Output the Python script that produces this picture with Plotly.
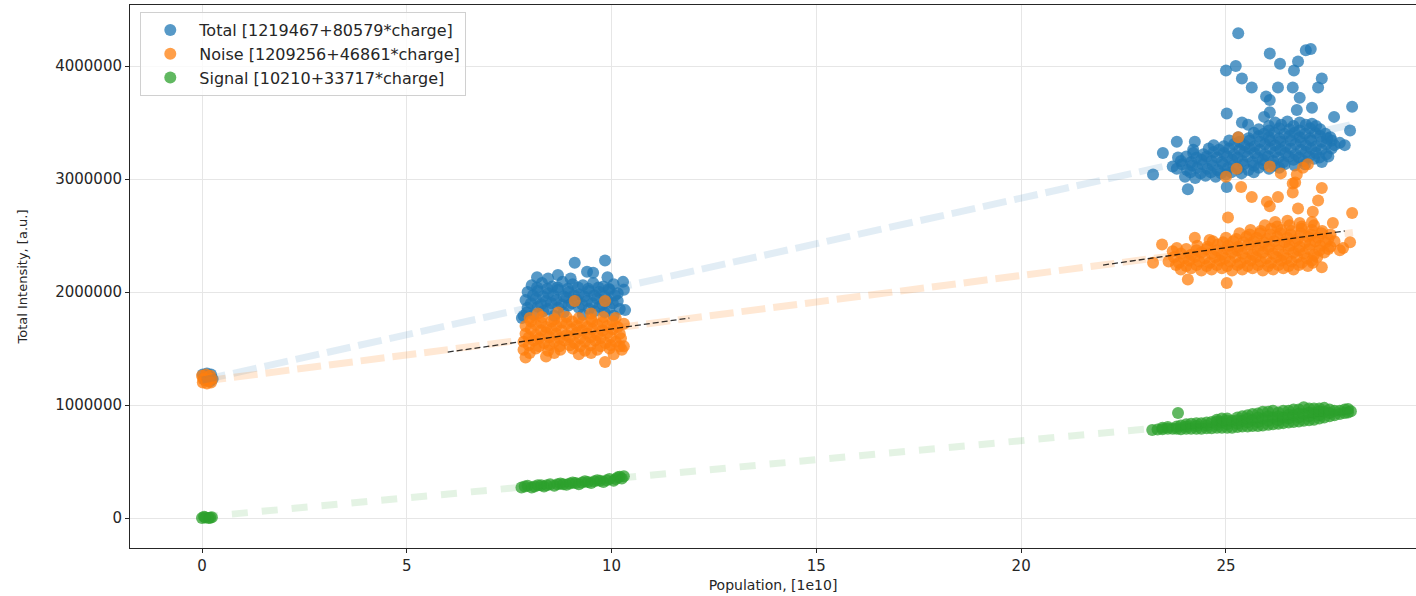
import plotly.graph_objects as go

# Population in units of 1e10, intensity in units of 1e6 a.u.
MEGA = 1e6

TOTAL_PTS = [
    # near-empty beam
    (0.02, 1.27), (0.12, 1.28), (0.22, 1.27), (0.05, 1.24), (0.18, 1.25), (0.26, 1.23), (0.08, 1.22), (0.20, 1.21),
    # ~9e10 charges
    (8.05, 2.06), (8.30, 2.08), (8.55, 2.05), (8.80, 2.09), (9.05, 2.07), (9.30, 2.06), (9.55, 2.08), (9.80, 2.05), (10.05, 2.07),
    (8.18, 2.04), (8.43, 2.03), (8.68, 2.04), (8.93, 2.03), (9.18, 2.04), (9.43, 2.03), (9.68, 2.04), (9.93, 2.03),
    (7.95, 2.00), (8.20, 2.01), (8.45, 1.99), (8.70, 2.02), (8.95, 2.00), (9.20, 1.98), (9.45, 2.01), (9.70, 2.00), (9.95, 2.02), (10.15, 1.99),
    (8.08, 1.97), (8.33, 1.96), (8.58, 1.97), (8.83, 1.96), (9.08, 1.97), (9.33, 1.96), (9.58, 1.97), (9.83, 1.96), (10.08, 1.97),
    (7.90, 1.93), (8.15, 1.94), (8.40, 1.92), (8.65, 1.93), (8.90, 1.95), (9.15, 1.93), (9.40, 1.92), (9.65, 1.94), (9.90, 1.93), (10.15, 1.92),
    (8.03, 1.90), (8.28, 1.89), (8.53, 1.90), (8.78, 1.89), (9.03, 1.90), (9.28, 1.89), (9.53, 1.90), (9.78, 1.89), (10.03, 1.90),
    (7.95, 1.86), (8.20, 1.87), (8.45, 1.85), (8.70, 1.86), (8.95, 1.88), (9.20, 1.86), (9.45, 1.85), (9.70, 1.87), (9.95, 1.86), (10.20, 1.85),
    (8.33, 1.83), (8.83, 1.82), (9.58, 1.83), (9.83, 1.82),
    (7.85, 1.79), (8.10, 1.80), (8.60, 1.79), (9.30, 1.80), (10.05, 1.79),
    (9.10, 2.26), (9.84, 2.28), (8.18, 2.13), (8.69, 2.15), (9.40, 2.18), (9.55, 2.17), (10.28, 2.09), (7.81, 1.77),
    (8.45, 2.12), (9.00, 2.12), (9.90, 2.13), (10.33, 1.84), (7.93, 1.82), (10.30, 2.02),
    # ~26e10 charges
    (24.00, 3.02), (24.25, 3.01), (24.50, 3.03), (24.75, 3.02), (25.00, 3.04),
    (24.13, 3.06), (24.38, 3.05), (24.63, 3.06), (24.88, 3.05), (25.13, 3.06), (25.38, 3.05), (25.68, 3.06),
    (23.80, 3.09), (24.05, 3.08), (24.30, 3.10), (24.55, 3.09), (24.80, 3.08), (25.05, 3.10), (25.30, 3.09), (25.55, 3.08), (25.80, 3.10), (26.05, 3.09), (26.30, 3.10),
    (23.93, 3.13), (24.18, 3.12), (24.43, 3.13), (24.68, 3.12), (24.93, 3.13), (25.18, 3.12), (25.43, 3.13), (25.68, 3.12), (25.93, 3.13), (26.18, 3.12), (26.43, 3.13), (26.68, 3.12), (26.93, 3.13),
    (23.90, 3.16), (24.15, 3.15), (24.40, 3.17), (24.65, 3.16), (24.90, 3.15), (25.15, 3.17), (25.40, 3.16), (25.65, 3.15), (25.90, 3.17), (26.15, 3.16), (26.40, 3.15), (26.65, 3.17), (26.90, 3.16), (27.15, 3.18),
    (24.03, 3.20), (24.28, 3.19), (24.53, 3.20), (24.78, 3.19), (25.03, 3.20), (25.28, 3.19), (25.53, 3.20), (25.78, 3.19), (26.03, 3.20), (26.28, 3.19), (26.53, 3.20), (26.78, 3.19), (27.03, 3.20), (27.28, 3.19), (27.50, 3.20),
    (24.20, 3.23), (24.45, 3.22), (24.70, 3.24), (24.95, 3.23), (25.20, 3.22), (25.45, 3.24), (25.70, 3.23), (25.95, 3.22), (26.20, 3.24), (26.45, 3.23), (26.70, 3.22), (26.95, 3.24), (27.20, 3.23), (27.45, 3.22),
    (24.58, 3.27), (24.83, 3.26), (25.08, 3.27), (25.33, 3.26), (25.58, 3.27), (25.83, 3.26), (26.08, 3.27), (26.33, 3.26), (26.58, 3.27), (26.83, 3.26), (27.08, 3.27), (27.33, 3.26), (27.58, 3.27),
    (24.70, 3.30), (24.95, 3.29), (25.20, 3.31), (25.45, 3.30), (25.70, 3.29), (25.95, 3.31), (26.20, 3.30), (26.45, 3.29), (26.70, 3.31), (26.95, 3.30), (27.20, 3.29), (27.45, 3.31), (27.65, 3.30),
    (25.08, 3.34), (25.33, 3.33), (25.58, 3.34), (25.83, 3.33), (26.08, 3.34), (26.33, 3.33), (26.58, 3.34), (26.83, 3.33), (27.08, 3.34), (27.33, 3.33), (27.58, 3.34),
    (25.30, 3.37), (25.55, 3.36), (25.80, 3.38), (26.05, 3.37), (26.30, 3.36), (26.55, 3.38), (26.80, 3.37), (27.05, 3.36), (27.30, 3.38), (27.55, 3.37),
    (25.68, 3.41), (25.93, 3.40), (26.18, 3.41), (26.43, 3.40), (26.68, 3.41), (26.93, 3.40), (27.18, 3.41), (27.43, 3.40),
    (25.80, 3.44), (26.05, 3.43), (26.30, 3.45), (26.55, 3.44), (26.80, 3.43), (27.05, 3.45), (27.30, 3.44),
    (26.05, 3.47), (26.35, 3.48), (26.65, 3.47), (26.95, 3.48), (27.20, 3.47),
    (26.20, 3.50), (26.50, 3.51), (26.80, 3.50), (27.10, 3.49),
    (25.30, 4.29), (26.07, 4.11), (26.95, 4.14), (27.07, 4.15), (26.76, 4.04), (26.32, 4.02), (26.66, 3.96), (25.24, 4.00),
    (25.00, 3.96), (25.39, 3.89), (27.34, 3.89), (25.63, 3.81), (26.27, 3.81), (26.63, 3.81), (27.25, 3.81), (25.98, 3.73),
    (26.07, 3.70), (26.80, 3.72), (27.10, 3.63), (28.08, 3.64), (26.73, 3.61), (26.07, 3.59), (25.02, 3.58), (27.64, 3.55),
    (25.93, 3.55), (25.39, 3.50), (25.54, 3.48), (28.03, 3.43), (27.78, 3.32), (27.90, 3.30), (27.47, 3.36), (23.80, 3.33),
    (24.24, 3.33), (23.46, 3.23), (23.22, 3.04), (23.70, 3.11), (24.07, 2.91), (25.02, 2.93), (23.83, 3.19), (24.20, 3.26),
    (27.34, 3.15),
]

NOISE_PTS = [
    (0.00, 1.26), (0.10, 1.27), (0.20, 1.26), (0.03, 1.23), (0.14, 1.22), (0.24, 1.23), (0.02, 1.20), (0.12, 1.19), (0.22, 1.20),
    (8.00, 1.77), (8.30, 1.78), (8.60, 1.76), (8.90, 1.78), (9.20, 1.77), (9.50, 1.76), (9.80, 1.78), (10.10, 1.77),
    (8.03, 1.74), (8.28, 1.73), (8.53, 1.74), (8.78, 1.73), (9.03, 1.74), (9.28, 1.73), (9.53, 1.74), (9.78, 1.73), (10.03, 1.74),
    (7.90, 1.70), (8.15, 1.71), (8.40, 1.69), (8.65, 1.70), (8.90, 1.72), (9.15, 1.70), (9.40, 1.69), (9.65, 1.71), (9.90, 1.70), (10.15, 1.69),
    (8.03, 1.67), (8.28, 1.66), (8.53, 1.67), (8.78, 1.66), (9.03, 1.67), (9.28, 1.66), (9.53, 1.67), (9.78, 1.66), (10.03, 1.67),
    (7.90, 1.63), (8.15, 1.62), (8.40, 1.64), (8.65, 1.63), (8.90, 1.62), (9.15, 1.64), (9.40, 1.63), (9.65, 1.62), (9.90, 1.64), (10.20, 1.63),
    (7.98, 1.60), (8.23, 1.59), (8.48, 1.60), (8.73, 1.59), (8.98, 1.60), (9.23, 1.59), (9.48, 1.60), (9.73, 1.59), (9.98, 1.60), (10.23, 1.59),
    (7.85, 1.56), (8.10, 1.57), (8.35, 1.55), (8.60, 1.56), (8.85, 1.57), (9.10, 1.55), (9.35, 1.56), (9.60, 1.57), (9.85, 1.55), (10.10, 1.56),
    (7.98, 1.53), (8.23, 1.52), (8.48, 1.53), (8.73, 1.52), (8.98, 1.53), (9.23, 1.52), (9.48, 1.53), (9.73, 1.52), (9.98, 1.53), (10.20, 1.52),
    (7.85, 1.49), (8.15, 1.50), (8.45, 1.48), (8.75, 1.49), (9.05, 1.50), (9.35, 1.48), (9.65, 1.49), (9.95, 1.50), (10.25, 1.49),
    (8.00, 1.46), (8.60, 1.46), (9.50, 1.46), (10.05, 1.45),
    (7.90, 1.42), (8.40, 1.43), (9.20, 1.45), (10.30, 1.52), (9.84, 1.38), (9.10, 1.92), (9.84, 1.92), (10.30, 1.72),
    (8.20, 1.81), (8.70, 1.82), (9.50, 1.81),
    (23.90, 2.20), (24.15, 2.21), (24.40, 2.19), (24.65, 2.20), (24.90, 2.21), (25.15, 2.19), (25.40, 2.20), (25.65, 2.21), (25.90, 2.19), (26.15, 2.20), (26.40, 2.21), (26.65, 2.20),
    (23.78, 2.24), (24.03, 2.23), (24.28, 2.24), (24.53, 2.23), (24.78, 2.24), (25.03, 2.23), (25.28, 2.24), (25.53, 2.23), (25.78, 2.24), (26.03, 2.23), (26.28, 2.24), (26.53, 2.23), (26.78, 2.24), (27.00, 2.23),
    (23.60, 2.27), (23.85, 2.26), (24.10, 2.28), (24.35, 2.27), (24.60, 2.26), (24.85, 2.28), (25.10, 2.27), (25.35, 2.26), (25.60, 2.28), (25.85, 2.27), (26.10, 2.26), (26.35, 2.28), (26.60, 2.27), (26.85, 2.26), (27.10, 2.28),
    (23.73, 2.31), (23.98, 2.30), (24.23, 2.31), (24.48, 2.30), (24.73, 2.31), (24.98, 2.30), (25.23, 2.31), (25.48, 2.30), (25.73, 2.31), (25.98, 2.30), (26.23, 2.31), (26.48, 2.30), (26.73, 2.31), (26.98, 2.30), (27.23, 2.31),
    (23.90, 2.34), (24.15, 2.33), (24.40, 2.35), (24.65, 2.34), (24.90, 2.33), (25.15, 2.35), (25.40, 2.34), (25.65, 2.33), (25.90, 2.35), (26.15, 2.34), (26.40, 2.33), (26.65, 2.35), (26.90, 2.34), (27.15, 2.33), (27.40, 2.35),
    (24.03, 2.38), (24.28, 2.37), (24.53, 2.38), (24.78, 2.37), (25.03, 2.38), (25.28, 2.37), (25.53, 2.38), (25.78, 2.37), (26.03, 2.38), (26.28, 2.37), (26.53, 2.38), (26.78, 2.37), (27.03, 2.38), (27.28, 2.37), (27.50, 2.38),
    (24.30, 2.41), (24.55, 2.40), (24.80, 2.42), (25.05, 2.41), (25.30, 2.40), (25.55, 2.42), (25.80, 2.41), (26.05, 2.40), (26.30, 2.42), (26.55, 2.41), (26.80, 2.40), (27.05, 2.42), (27.30, 2.41), (27.55, 2.40),
    (24.68, 2.45), (24.93, 2.44), (25.18, 2.45), (25.43, 2.44), (25.68, 2.45), (25.93, 2.44), (26.18, 2.45), (26.43, 2.44), (26.68, 2.45), (26.93, 2.44), (27.18, 2.45), (27.43, 2.44), (27.65, 2.45),
    (25.00, 2.48), (25.25, 2.47), (25.50, 2.49), (25.75, 2.48), (26.00, 2.47), (26.25, 2.49), (26.50, 2.48), (26.75, 2.47), (27.00, 2.49), (27.25, 2.48), (27.50, 2.47),
    (25.33, 2.52), (25.58, 2.51), (25.83, 2.52), (26.08, 2.51), (26.33, 2.52), (26.58, 2.51), (26.83, 2.52), (27.08, 2.51), (27.33, 2.52), (27.55, 2.51),
    (25.60, 2.55), (25.85, 2.54), (26.10, 2.56), (26.35, 2.55), (26.60, 2.54), (26.85, 2.56), (27.10, 2.55), (27.35, 2.54),
    (25.95, 2.59), (26.25, 2.58), (26.55, 2.59), (26.85, 2.58), (27.15, 2.59),
    (26.20, 2.62), (26.50, 2.63), (26.80, 2.61), (27.10, 2.62),
    (25.37, 2.93), (25.63, 2.84), (26.00, 2.80), (26.07, 2.76), (26.27, 2.84), (26.63, 2.88), (26.69, 2.97), (27.34, 2.92),
    (27.25, 2.81), (27.12, 2.71), (28.08, 2.70), (27.61, 2.61), (26.76, 2.74), (25.05, 2.66), (23.80, 2.39), (24.24, 2.48),
    (28.03, 2.44), (27.86, 2.39), (24.07, 2.11), (25.02, 2.08), (27.34, 2.22), (27.12, 2.26), (25.30, 3.37), (25.26, 3.09),
    (25.00, 3.02), (26.07, 3.11), (26.34, 3.05), (27.00, 3.13), (26.88, 3.10), (26.73, 3.04), (26.63, 2.96), (23.22, 2.26),
    (23.44, 2.42), (27.78, 2.37), (24.60, 2.46), (23.70, 2.36),
]

SIGNAL_PTS = [
    (0.00, 0.000), (0.08, 0.005), (0.16, 0.000), (0.24, 0.008), (0.05, 0.012), (0.20, 0.003),
    (7.80, 0.270), (7.88, 0.280), (7.95, 0.285), (8.05, 0.270), (8.12, 0.280), (8.20, 0.290), (8.28, 0.290), (8.35, 0.280),
    (8.42, 0.290), (8.50, 0.300), (8.60, 0.285), (8.68, 0.300), (8.75, 0.305), (8.82, 0.300), (8.90, 0.295), (8.98, 0.305),
    (9.05, 0.315), (9.12, 0.310), (9.20, 0.300), (9.28, 0.315), (9.35, 0.325), (9.42, 0.320), (9.50, 0.310), (9.58, 0.325),
    (9.65, 0.335), (9.72, 0.330), (9.80, 0.320), (9.88, 0.335), (9.95, 0.345), (10.05, 0.330), (10.10, 0.345), (10.15, 0.360),
    (10.20, 0.365), (10.25, 0.350), (10.30, 0.370),
    (23.20, 0.780), (23.33, 0.783), (23.45, 0.785), (23.45, 0.800), (23.58, 0.790), (23.58, 0.805), (23.70, 0.790),
    (23.80, 0.790), (23.80, 0.810), (23.90, 0.785), (23.90, 0.820), (24.03, 0.790), (24.03, 0.810), (24.03, 0.830),
    (24.15, 0.790), (24.15, 0.835), (24.28, 0.790), (24.28, 0.815), (24.28, 0.840), (24.40, 0.790), (24.40, 0.840),
    (24.53, 0.795), (24.53, 0.820), (24.53, 0.845), (24.65, 0.795), (24.65, 0.850), (24.78, 0.800), (24.78, 0.825),
    (24.78, 0.855), (24.78, 0.870), (24.90, 0.800), (24.90, 0.850), (24.90, 0.880), (25.03, 0.800), (25.03, 0.830),
    (25.03, 0.860), (25.03, 0.880), (25.15, 0.800), (25.15, 0.860), (25.28, 0.805), (25.28, 0.835), (25.28, 0.865),
    (25.28, 0.890), (25.40, 0.810), (25.40, 0.860), (25.40, 0.900), (25.53, 0.810), (25.53, 0.845), (25.53, 0.880),
    (25.53, 0.910), (25.65, 0.815), (25.65, 0.870), (25.65, 0.920), (25.78, 0.815), (25.78, 0.850), (25.78, 0.890),
    (25.78, 0.925), (25.90, 0.820), (25.90, 0.880), (25.90, 0.940), (26.03, 0.825), (26.03, 0.860), (26.03, 0.900),
    (26.03, 0.940), (26.15, 0.830), (26.15, 0.890), (26.15, 0.950), (26.28, 0.835), (26.28, 0.865), (26.28, 0.900),
    (26.28, 0.935), (26.40, 0.840), (26.40, 0.890), (26.40, 0.950), (26.53, 0.845), (26.53, 0.880), (26.53, 0.915),
    (26.53, 0.950), (26.65, 0.850), (26.65, 0.910), (26.65, 0.960), (26.78, 0.855), (26.78, 0.890), (26.78, 0.925),
    (26.78, 0.960), (26.90, 0.860), (26.90, 0.920), (26.90, 0.980), (27.03, 0.865), (27.03, 0.900), (27.03, 0.935),
    (27.03, 0.970), (27.15, 0.870), (27.15, 0.930), (27.15, 0.970), (27.28, 0.880), (27.28, 0.910), (27.28, 0.945),
    (27.28, 0.970), (27.40, 0.890), (27.40, 0.940), (27.40, 0.975), (27.53, 0.900), (27.53, 0.930), (27.53, 0.960),
    (27.65, 0.910), (27.65, 0.950), (27.78, 0.920), (27.78, 0.950), (27.90, 0.930), (27.90, 0.960), (27.98, 0.935),
    (27.98, 0.965), (28.05, 0.945), (23.83, 0.930),
]

# Linear fits: intensity = intercept + slope * population
FIT_NAMES = ["Total", "Noise", "Signal"]
FIT_INTERCEPT = [1219467, 1209256, 10210]
FIT_SLOPE = [80579, 46861, 33717]
FIT_X = [0.0, 28.1]

# Local noise fits around the two populated groups (endpoints, intensity in 1e6)
LOCAL_X = [[6.0, 11.9], [22.0, 27.9]]
LOCAL_Y = [[1.469, 1.770], [2.239, 2.540]]

COLORS = ["#1f77b4", "#ff7f0e", "#2ca02c"]
FAINT = ["rgba(31,119,180,0.13)", "rgba(255,127,14,0.18)", "rgba(44,160,44,0.13)"]
DASHES = ["24px,8px", "24px,8px", "16px,14px"]

fig = go.Figure()

for name, pts, color, a, b in zip(FIT_NAMES, [TOTAL_PTS, NOISE_PTS, SIGNAL_PTS], COLORS, FIT_INTERCEPT, FIT_SLOPE):
    fig.add_trace(go.Scatter(
        x=[p[0] for p in pts],
        y=[p[1] * MEGA for p in pts],
        mode="markers",
        name=f"{name} [{a}+{b}*charge]",
        marker=dict(size=12, color=color, opacity=0.75, line=dict(width=0)),
    ))

for a, b, c, d in zip(FIT_INTERCEPT, FIT_SLOPE, FAINT, DASHES):
    fig.add_trace(go.Scatter(
        x=FIT_X, y=[a + b * x for x in FIT_X], mode="lines",
        line=dict(color=c, width=7, dash=d), showlegend=False, hoverinfo="skip",
    ))

for xs, ys in zip(LOCAL_X, LOCAL_Y):
    fig.add_trace(go.Scatter(
        x=xs, y=[v * MEGA for v in ys], mode="lines",
        line=dict(color="rgba(0,0,0,0.8)", width=1.3, dash="6px,3px"),
        showlegend=False, hoverinfo="skip",
    ))

axis_common = dict(
    showgrid=True, gridcolor="#e6e6e6", gridwidth=1, zeroline=False,
    showline=True, linecolor="#262626", linewidth=1,
    ticks="outside", ticklen=4, tickcolor="#262626",
    tickfont=dict(size=15, color="#262626"),
)

fig.update_layout(
    width=1416, height=596,
    margin=dict(l=130, r=0, t=5, b=48),
    plot_bgcolor="white", paper_bgcolor="white",
    font=dict(family="DejaVu Sans", color="#262626"),
    xaxis=dict(
        range=[-1.758, 29.64], tickvals=[0, 5, 10, 15, 20, 25], mirror=True,
        title=dict(text="Population, [1e10]", font=dict(size=14), standoff=6),
        automargin=False, **axis_common,
    ),
    yaxis=dict(
        range=[-0.265 * MEGA, 4.54 * MEGA], tickvals=[0, 1e6, 2e6, 3e6, 4e6], tickformat="d",
        title=dict(text="Total Intensity, [a.u.]", font=dict(size=13), standoff=24),
        automargin=False, **axis_common,
    ),
    legend=dict(
        x=0.008, y=0.987, xanchor="left", yanchor="top",
        bgcolor="rgba(255,255,255,0.8)", bordercolor="#d0d0d0", borderwidth=1,
        font=dict(size=16, color="#262626"), itemwidth=48,
    ),
    showlegend=True,
)

fig.write_html("out.html")
